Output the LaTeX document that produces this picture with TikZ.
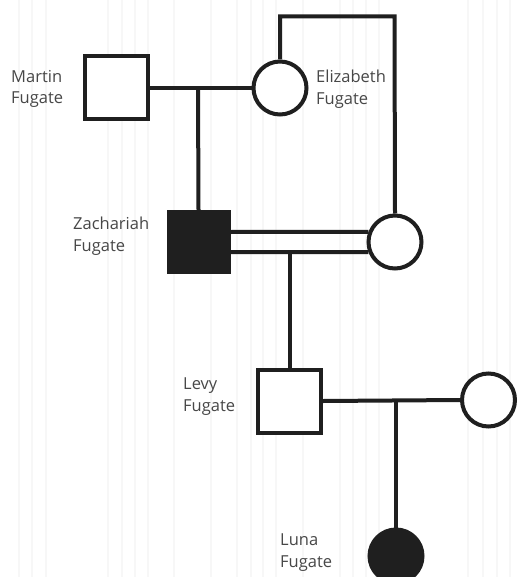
\documentclass[tikz,border=0pt]{standalone}
\usepackage{fontspec}
\setmainfont{Open Sans}
\begin{document}
\begin{tikzpicture}[x=1bp,y=-1bp,
  ln/.style={line width=4bp, draw=black!88},
  male/.style={ln, rectangle, minimum size=63bp, inner sep=0pt, fill=white},
  female/.style={ln, circle, minimum size=53bp, inner sep=0pt, fill=white},
  affected/.style={fill=black!88},
  lbl/.style={text=black!72, align=left, font=\fontsize{16.5bp}{21.5bp}\selectfont, inner sep=0pt, anchor=north west},
  grid/.style={draw=black!3, line width=1.2bp}]
\clip (0,0) rectangle (518,577);
\fill[white] (0,0) rectangle (518,577);
\foreach \gx in {19,32,46,108,122,135,148,174,211,237,251,263,276,303,340,353,366,379,468,483,497,510}
  \draw[grid] (\gx,0) -- (\gx,577);
% individuals
\node[male] (mart) at (116.5,88) {};
\node[female] (eliz) at (280,88) {};
\node[male, affected, minimum size=60bp] (zach) at (198.5,242) {};
\node[female] (wife) at (395,242) {};
\node[male] (levy) at (289.5,401) {};
\node[female] (lwife) at (488.5,400) {};
\node[female, affected] (luna) at (396,556) {};
% labels
\node[lbl] (lmart) at (11,70) {Martin\\Fugate};
\node[lbl] (leliz) at (316,70) {Elizabeth\\Fugate};
\node[lbl] (lzach) at (73,217) {Zachariah\\Fugate};
\node[lbl] (llevy) at (183,378) {Levy\\Fugate};
\node[lbl] (lluna) at (280,534) {Luna\\Fugate};
% connectors
\coordinate (c1) at (198,88);
\coordinate (top) at (394.5,16.5);
\coordinate (c2) at (289.5,252);
\coordinate (c3) at (396,400);
\draw[ln] (mart.east) -- (eliz.west);
\draw[ln] (c1) -- (zach.north);
\draw[ln] (eliz.north) |- (top) -- (wife.north);
\draw[ln] ([yshift=10bp]zach.east) -- (wife.159);
\draw[ln] ([yshift=-10bp]zach.east) -- (wife.201);
\draw[ln] (c2) -- (levy.north);
\draw[ln] (levy.east) -- (lwife.west);
\draw[ln] (c3) -- (luna.north);
\end{tikzpicture}
\end{document}
